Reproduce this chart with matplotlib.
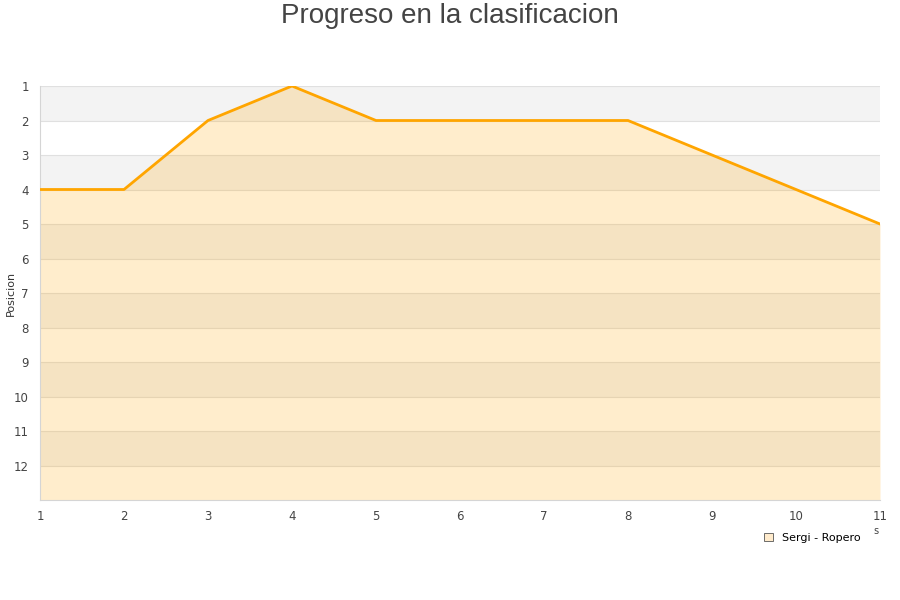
import matplotlib
matplotlib.use("Agg")
import matplotlib.pyplot as plt
from matplotlib.patches import Patch

jornadas = [1, 2, 3, 4, 5, 6, 7, 8, 9, 10, 11]
posicion = [4, 4, 2, 1, 2, 2, 2, 2, 3, 4, 5]
serie = "Sergi - Ropero"
yticks = list(range(1, 13))

fig = plt.figure(figsize=(9, 6), dpi=100)
ax = fig.add_axes([40 / 900, 1 - 500 / 600, 840 / 900, 414 / 600])

# alternating bands
for y0 in range(1, 13, 2):
    ax.axhspan(y0, y0 + 1, color="#f3f3f3", zorder=0, lw=0)
for y in range(1, 13):
    ax.axhline(y, color="#e0e0e0", lw=0.8, zorder=1)

ax.fill_between(jornadas, posicion, 13, color="orange", alpha=0.2, lw=0, zorder=2)
ax.plot(jornadas, posicion, color="orange", lw=2, zorder=3)

ax.set_xlim(1, 11)
ax.set_ylim(13, 1)
ax.set_xticks(jornadas)
ax.set_yticks(yticks)
ax.tick_params(length=0, labelsize=8.5, colors="#444444", pad=7)
ax.tick_params(axis="y", pad=8)
for s in ["top", "right"]:
    ax.spines[s].set_visible(False)
for s in ["left", "bottom"]:
    ax.spines[s].set_color("#d5d5d5")

fig.text(11 / 900, 1 - 293 / 600, "Posicion", rotation=90, ha="center", va="center",
         fontsize=8, color="#333333")
fig.text(0.5, 1 - 16 / 600, "Progreso en la clasificacion", ha="center", va="center",
         fontsize=20, color="#444444", family="Liberation Sans")
fig.text(873 / 900, 1 - 531 / 600, "s", ha="left", va="center", fontsize=7, color="#444444")

leg = fig.legend(handles=[Patch(facecolor="#ffebcc", edgecolor="#555555", lw=0.6, label=serie)],
                 loc="center", bbox_to_anchor=(812 / 900, 1 - 538 / 600), frameon=False,
                 fontsize=8, handlelength=0.8, handleheight=0.8, handletextpad=0.8)

fig.savefig("out.png", dpi=100)
